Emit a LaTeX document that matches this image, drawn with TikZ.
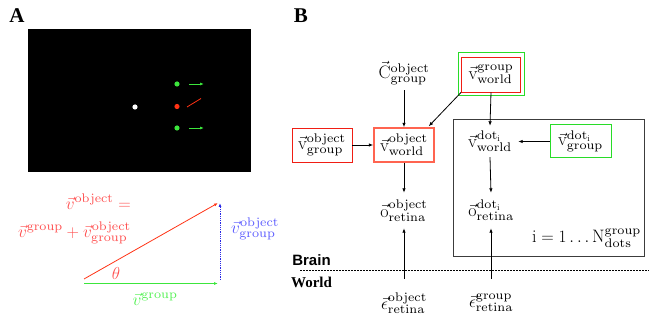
\documentclass[tikz,border=0pt]{standalone}
\usepackage{fontspec}
\usetikzlibrary{arrows.meta}
\newfontfamily\arialfont{Liberation Sans}
\newfontfamily\timesfont{Liberation Serif}
\DeclareFontFamily{OT1}{wcm}{}
\DeclareFontShape{OT1}{wcm}{m}{n}{<-> cmr7}{}
\newcommand\supfs{\fontencoding{OT1}\fontfamily{wcm}\fontseries{m}\fontshape{n}\fontsize{12.5}{12.5}\selectfont}
\newcommand\tx[1]{\mbox{\supfs #1}}
\newcommand\VV[3]{$\vec{\mathrm{#1}}^{\tx{#2}}_{\tx{#3}}$}
\definecolor{rtxt}{RGB}{255,80,80}
\definecolor{rline}{RGB}{255,50,20}
\definecolor{gtxt}{RGB}{80,240,80}
\definecolor{gline}{RGB}{60,230,60}
\definecolor{btxt}{RGB}{90,90,255}
\definecolor{bline}{RGB}{40,40,230}
\definecolor{gboxc}{RGB}{40,220,40}
\definecolor{rboxc}{RGB}{240,30,20}
\definecolor{rboxl}{RGB}{255,100,80}
\definecolor{platec}{RGB}{60,60,60}
\tikzset{
  plainA/.style={font=\fontsize{16}{18}\selectfont, inner sep=0pt},
  plain/.style={font=\fontsize{18}{20}\selectfont, inner sep=0pt},
  redbox/.style={plain, draw=rboxc, line width=0.9pt, minimum width=60pt, minimum height=34pt},
  lredbox/.style={plain, draw=rboxl, line width=1.4pt, minimum width=60pt, minimum height=34pt},
  grnbox/.style={plain, draw=gboxc, line width=1pt},
  arr/.style={-{Latex[length=4.5pt,width=3.5pt]}, line width=0.8pt},
  tinyarr/.style={-{Latex[length=4pt,width=3pt]}},
}
\begin{document}
\begin{tikzpicture}[x=1pt,y=-1pt]
\useasboundingbox (0,0) rectangle (649,320);
% ---------- Panel A ----------
\node[font=\timesfont\bfseries\fontsize{21}{21}\selectfont] (labA) at (17,16) {A};
\fill[black] (28,29) rectangle (251,172);
\fill[white] (135,107) circle (2.6);
\fill[rline] (177,106.5) circle (2.6);
\fill[gline] (177,84) circle (2.6);
\fill[gline] (177,128) circle (2.6);
\coordinate (g1s) at (189,84); \coordinate (g1e) at (204,84);
\coordinate (g2s) at (189,128); \coordinate (g2e) at (204,128);
\coordinate (rs) at (187,107); \coordinate (re) at (201,98.5);
\draw[gline, line width=0.8pt, tinyarr] (g1s) -- (g1e);
\draw[gline, line width=0.8pt, tinyarr] (g2s) -- (g2e);
\draw[rline, line width=0.8pt] (rs) -- (re);

\coordinate (orig) at (84,279);
\coordinate (tipr) at (218,203);
\coordinate (orig2) at (84,283.5);
\coordinate (tipg) at (218,283.5);
\coordinate (bb) at (220,280);
\coordinate (bt) at (220,203);
\draw[rline, line width=0.8pt, tinyarr] (orig) -- (tipr);
\draw[gline, line width=1.3pt, tinyarr] (orig2) -- (tipg);
\draw[bline, line width=0.8pt, densely dotted, tinyarr] (bb) -- (bt);
\node[rtxt, plainA] (theta) at (116,274) {$\theta$};
\node[rtxt, plainA, align=right, anchor=east, font=\fontsize{16}{28}\selectfont] (eq) at (131,219)
  {$\vec{v}^{\tx{object}}=$\\$\vec{v}^{\tx{group}}+\vec{v}^{\tx{object}}_{\tx{group}}$};
\node[btxt, plainA, anchor=west] (blab) at (231,229) {$\vec{v}^{\tx{object}}_{\tx{group}}$};
\node[gtxt, plainA] (glab) at (155,299) {$\vec{v}^{\tx{group}}$};

% ---------- Panel B ----------
\node[font=\timesfont\bfseries\fontsize{21}{21}\selectfont] (labB) at (301,16) {B};
\node[plain, minimum width=40pt, minimum height=34pt] (C) at (404,73) {$\vec{\mathrm{C}}^{\tx{object}}_{\tx{group}}$};
\node[grnbox, minimum width=66pt, minimum height=43pt] (vGWo) at (491,74.5) {};
\node[redbox, minimum width=59pt, minimum height=35pt] (vGW) at (491,74.5) {\VV{v}{group}{world}};
\node[redbox] (vOG) at (322,145) {\VV{v}{object}{group}};
\node[lredbox] (vOW) at (404,145) {\VV{v}{object}{world}};
\node[draw=platec, line width=1pt, minimum width=191pt, minimum height=137pt, inner sep=0pt] (plate) at (548.5,188.5) {};
\node[plain, minimum width=56pt, minimum height=31pt] (vDW) at (490,141.5) {\VV{v}{dot$_\mathrm{i}$}{world}};
\node[grnbox, minimum width=61pt, minimum height=33pt] (vDG) at (580.5,141.5) {\VV{v}{dot$_\mathrm{i}$}{group}};
\node[plain, minimum width=50pt, minimum height=35pt] (oO) at (404,210.5) {\VV{o}{object}{retina}};
\node[plain, minimum width=50pt, minimum height=35pt] (oD) at (491,210.5) {\VV{o}{dot$_\mathrm{i}$}{retina}};
\node[plain, anchor=east, font=\fontsize{18}{18}\selectfont] (Nlab) at (641,238) {$\mathrm{i}=1\ldots\mathrm{N}^{\tx{group}}_{\tx{dots}}$};
\node[plain, minimum width=50pt, minimum height=48pt] (eO) at (404,303) {$\vec{\epsilon}^{\tx{object}}_{\tx{retina}}$};
\node[plain, minimum width=50pt, minimum height=48pt] (eG) at (491,303) {$\vec{\epsilon}^{\tx{group}}_{\tx{retina}}$};

\draw[arr] (C.south) -- (vOW.north);
\draw[arr] (vOG.east) -- (vOW.west);
\draw[arr] (vGW.south west) -- ([xshift=-6pt,yshift=1pt]vOW.north east);
\draw[arr] (vGW.south) -- (vDW.north);
\draw[arr] (vDG.west) -- (vDW.east);
\draw[arr] (vDW.south) -- (oD.north);
\draw[arr] (vOW.south) -- (oO.north);
\draw[arr] (eO.north) -- (oO.south);
\draw[arr] (eG.north) -- (oD.south);

\coordinate (dl) at (300,270);
\coordinate (dr) at (649,270);
\draw[line width=0.7pt, dash pattern=on 1.5pt off 1.5pt] (dl) -- (dr);
\node[font=\arialfont\bfseries\fontsize{15}{15}\selectfont, inner sep=0pt] (brain) at (311.5,260) {Brain};
\node[font=\timesfont\bfseries\fontsize{15}{15}\selectfont, inner sep=0pt] (world) at (311.5,282) {World};
\end{tikzpicture}
\end{document}
